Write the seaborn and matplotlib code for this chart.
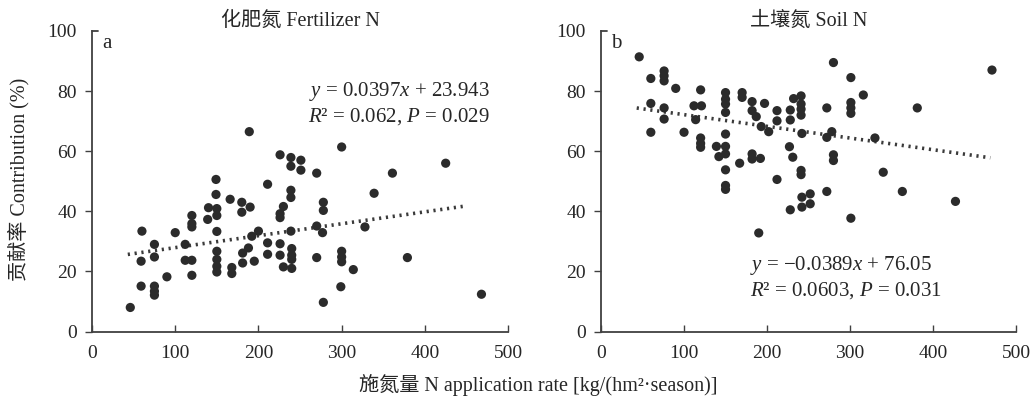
import numpy as np
import pandas as pd
import seaborn as sns
import matplotlib.pyplot as plt

# Dados
fert_x = [189, 149, 149, 166, 211, 226, 239, 239, 251, 251, 239, 239, 180,
          300, 270, 361, 425, 339, 278,
          180, 190, 140, 150, 150, 120, 120, 120, 139, 230, 226, 226, 150, 60,
          100, 200, 239, 192, 75, 75, 112, 211, 226, 240, 240, 240, 188, 150,
          150, 150, 150, 181, 181, 211, 226, 59, 112, 120, 195, 168, 168, 230,
          240, 90, 120, 59, 75, 75, 75, 46,
          278, 270, 277, 328, 270, 300, 300, 300, 314, 379, 299, 278, 468]
fert_y = [66.5, 50.6, 45.6, 44.0, 49.0, 58.8, 57.9, 55.0, 57.0, 53.7, 47.0, 44.6, 43.0,
          61.4, 52.7, 52.7, 56.0, 46.0, 43.0,
          39.7, 41.4, 41.2, 40.9, 38.6, 38.6, 35.9, 34.8, 37.3, 41.6, 39.2, 37.9, 33.3, 33.4,
          32.9, 33.4, 33.4, 31.7, 29.0, 24.8, 29.0, 29.5, 29.2, 27.6, 25.4, 24.0, 27.8, 26.7,
          24.0, 21.7, 19.8, 26.1, 22.8, 25.7, 25.4, 23.4, 23.7, 23.7, 23.4, 21.3, 19.3, 21.5,
          21.0, 18.2, 18.7, 15.1, 15.1, 13.4, 12.1, 8.0,
          40.3, 35.1, 32.9, 34.8, 24.6, 26.7, 24.8, 23.2, 20.6, 24.6, 14.9, 9.7, 12.4]

soil_x = [46, 60, 60, 60, 76, 76, 76, 76, 76, 90, 100, 112, 121, 114, 120, 120, 120,
          120, 139, 142, 150, 150, 150, 150, 150, 150, 150, 150, 150, 150,
          170, 170, 167, 182, 182, 187, 182, 182, 192, 193, 197, 202, 212, 212, 212,
          228, 228, 227, 231, 232, 241, 241, 241, 241, 242, 241, 241, 242, 252, 252,
          242, 228, 190,
          280, 301, 316, 272, 301, 301, 301, 381, 471, 278, 272, 330, 280, 280, 340,
          272, 363, 427, 301]
soil_y = [91.4, 84.2, 75.9, 66.3, 86.7, 85.1, 83.4, 74.4, 70.7, 80.9, 66.3, 75.1, 75.1,
          70.5, 80.4, 64.4, 62.6, 61.3, 61.6, 58.2, 79.5, 77.3, 75.7, 72.9, 65.7, 61.6,
          59.1, 53.8, 48.6, 47.3,
          79.5, 77.9, 56.0, 76.5, 73.5, 71.5, 59.1, 57.4, 57.6, 68.2, 75.9, 66.5, 73.5,
          70.1, 50.6, 73.7, 70.4, 61.5, 58.0, 77.5, 78.4, 75.7, 74.0, 72.0, 65.9, 53.6,
          52.2, 44.7, 45.8, 42.5, 41.4, 40.5, 32.8,
          89.5, 84.5, 78.7, 74.4, 76.2, 74.4, 72.6, 74.4, 87.0, 66.5, 64.6, 64.4, 58.8,
          56.9, 53.0, 46.6, 46.6, 43.3, 37.7]

# Linhas de tendência (coeficientes das equações) e intervalo em x
fert_coef = (0.0397, 23.943)
soil_coef = (-0.0389, 76.05)
fert_range = (43, 448)
soil_range = (43, 469)

titulos = ['化肥氮 Fertilizer N', '土壤氮 Soil N']
letras = ['a', 'b']
equacoes = [[r'$y$ = 0.0397$x$ + 23.943', r'$R$² = 0.062, $P$ = 0.029'],
            [r'$y$ = −0.0389$x$ + 76.05', r'$R$² = 0.0603, $P$ = 0.031']]

sns.set_style('ticks')
plt.rcParams['font.family'] = ['Liberation Serif', 'Noto Sans CJK SC']
plt.rcParams['mathtext.fontset'] = 'custom'
plt.rcParams['mathtext.rm'] = 'Liberation Serif'
plt.rcParams['mathtext.it'] = 'Liberation Serif:italic'

fig = plt.figure(figsize=(10.35, 4.03), dpi=100)
ax1 = fig.add_axes([0.0889, 0.1774, 0.402, 0.7457])
ax2 = fig.add_axes([0.5807, 0.1774, 0.401, 0.7457])

dados = [(ax1, fert_x, fert_y, fert_coef, fert_range),
         (ax2, soil_x, soil_y, soil_coef, soil_range)]

for i, (ax, xs, ys, coef, rng) in enumerate(dados):
    df = pd.DataFrame({'x': xs, 'y': ys})
    sns.scatterplot(data=df, x='x', y='y', ax=ax, color='#2b2b2b', s=44,
                    edgecolor='none', zorder=3)
    tx = np.linspace(rng[0], rng[1], 50)
    df_t = pd.DataFrame({'x': tx, 'y': coef[0] * tx + coef[1]})
    sns.lineplot(data=df_t, x='x', y='y', ax=ax, color='#3a3a3a', lw=2.6,
                 linestyle=(0, (0.6, 1.3)), zorder=2)
    ax.set_xlim(0, 500)
    ax.set_ylim(0, 100)
    ax.set_xticks(range(0, 501, 100))
    ax.set_yticks(range(0, 101, 20))
    ax.set_xlabel('')
    ax.set_ylabel('')
    sns.despine(ax=ax)
    for sp in ['left', 'bottom']:
        ax.spines[sp].set_color('#404040')
        ax.spines[sp].set_linewidth(1.3)
    ax.tick_params(axis='x', direction='in', length=5, width=1, color='#404040',
                   labelsize=14, pad=10)
    ax.tick_params(axis='y', direction='out', length=5, width=1, color='#404040',
                   labelsize=14, pad=6)
    ax.yaxis.get_major_ticks()[-1].tick1line.set_visible(False)
    ax.plot([0, 0.015], [1, 1], transform=ax.transAxes, color='#404040',
            lw=1.3, clip_on=False)
    ax.set_title(titulos[i], fontsize=14.5, pad=4)
    ax.text(0.025, 0.99, letras[i], transform=ax.transAxes, fontsize=15,
            va='top', ha='left')

ax1.text(0.955, 0.80, equacoes[0][0], transform=ax1.transAxes, fontsize=15,
         ha='right', va='center')
ax1.text(0.955, 0.715, equacoes[0][1], transform=ax1.transAxes, fontsize=15,
         ha='right', va='center')
ax2.text(0.36, 0.22, equacoes[1][0], transform=ax2.transAxes, fontsize=15,
         ha='left', va='center')
ax2.text(0.36, 0.135, equacoes[1][1], transform=ax2.transAxes, fontsize=15,
         ha='left', va='center')

fig.text(0.018, 0.555, '贡献率 Contribution (%)', rotation=90, fontsize=14.5,
         ha='center', va='center')
fig.text(0.52, 0.045, '施氮量 N application rate [kg/(hm²·season)]', fontsize=14.5,
         ha='center', va='center')

plt.savefig('out.png', dpi=100)
